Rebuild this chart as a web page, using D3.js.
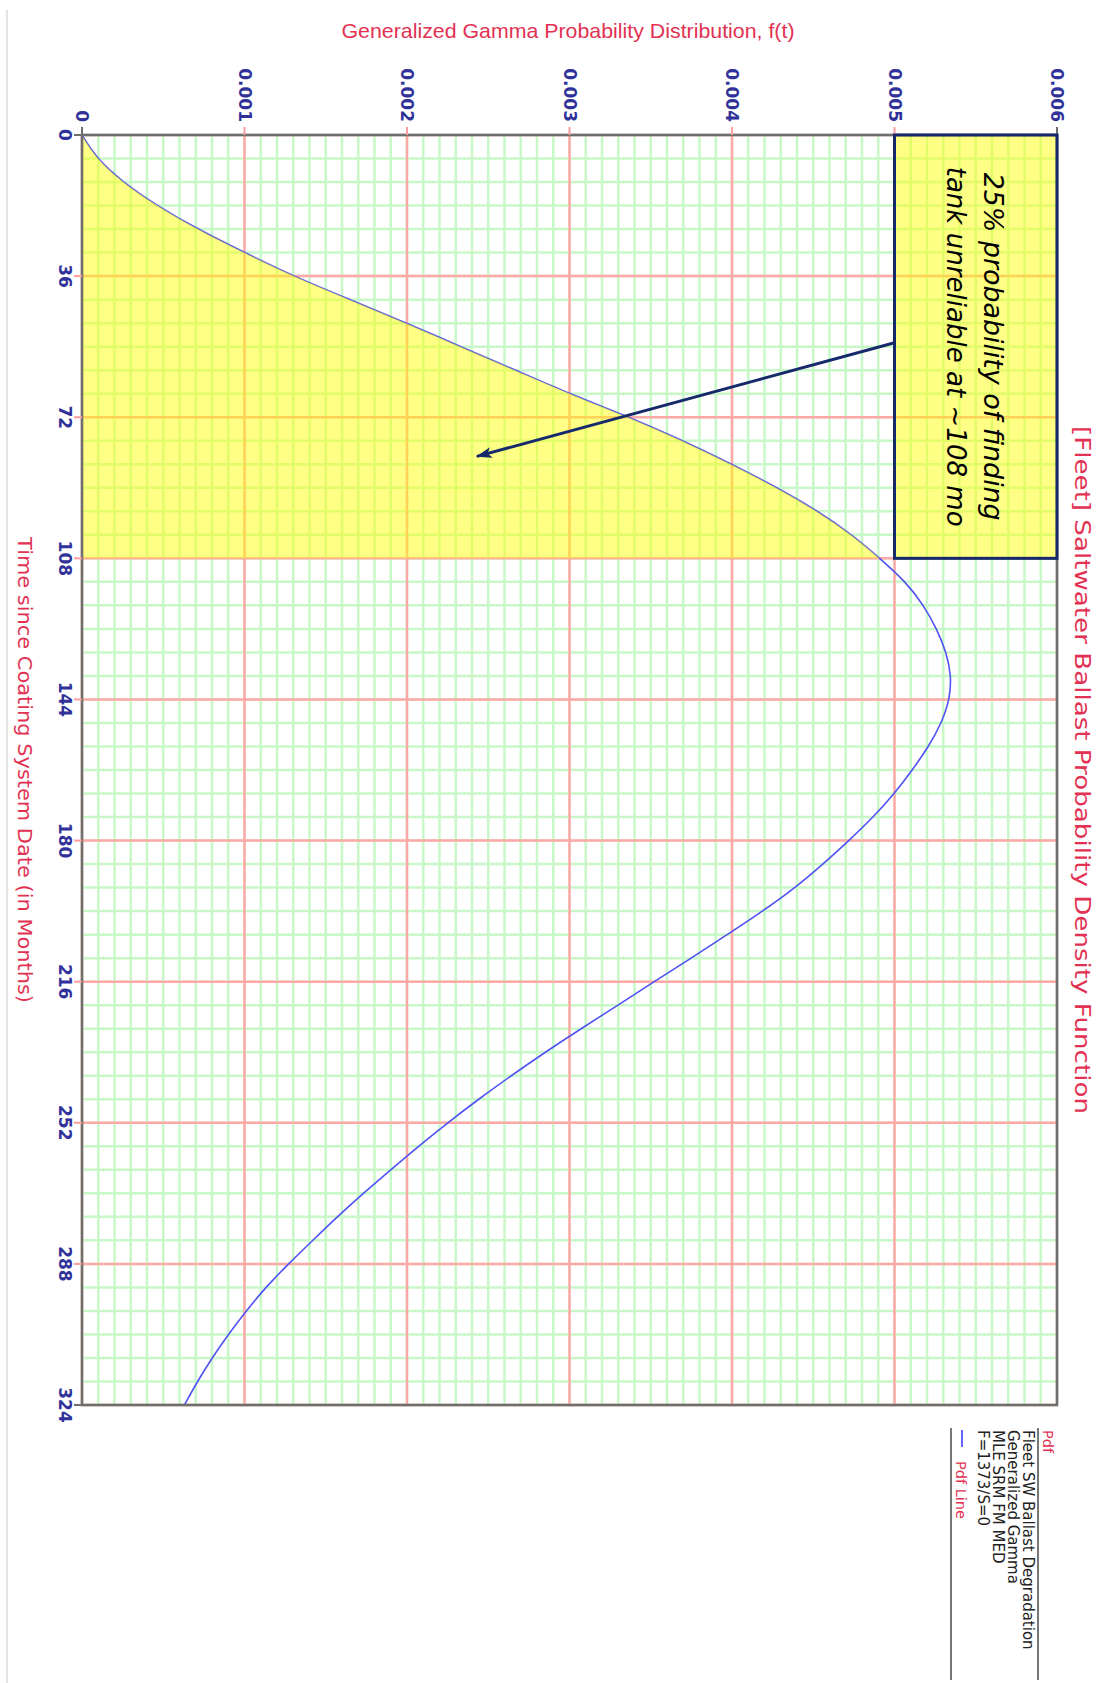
<!DOCTYPE html>
<html>
<head>
<meta charset="utf-8">
<script src="https://cdn.jsdelivr.net/npm/d3@7"></script>
<style>
  body { margin: 0; background: #fff; }
  svg { display: block; }
</style>
</head>
<body>
<div id="vis"></div>
<script>
const FRAME_WIDTH = 1103;
const FRAME_HEIGHT = 1683;
const PLOT = {left: 82, right: 1057, top: 135, bottom: 1405};

// time since coating (months) and the pdf value
const MONTHS = [0, 6, 12, 18, 24, 30, 36, 42, 48, 54, 60, 66, 72, 78, 84, 90, 96, 102, 108,
                114, 120, 126, 132, 138, 144, 150, 156, 162, 168, 174, 180, 186, 192, 198, 204,
                210, 216, 222, 228, 234, 240, 246, 252, 258, 264, 270, 276, 282, 288, 294, 300,
                306, 312, 318, 324];
const PDF = [0, 0.00009, 0.00025, 0.00046, 0.00071, 0.00100, 0.00130, 0.00165, 0.00200,
             0.00233, 0.00267, 0.00300, 0.00337, 0.00370, 0.00400, 0.00428, 0.00453, 0.00474,
             0.00491, 0.00507, 0.00518, 0.00526, 0.00532, 0.00535, 0.00534, 0.00529, 0.00521,
             0.00511, 0.00500, 0.00487, 0.00472, 0.00456, 0.00439, 0.00419, 0.00397, 0.00375,
             0.00352, 0.00330, 0.00307, 0.00285, 0.00264, 0.00244, 0.00225, 0.00207, 0.00190,
             0.00173, 0.00157, 0.00142, 0.00127, 0.00113, 0.00101, 0.00090, 0.00080, 0.00071,
             0.00063];

const TIME_TICKS = [0, 36, 72, 108, 144, 180, 216, 252, 288, 324];
const PDF_TICKS = [0, 0.001, 0.002, 0.003, 0.004, 0.005, 0.006];
const PDF_TICK_LABELS = ["0", "0.001", "0.002", "0.003", "0.004", "0.005", "0.006"];

const SHADE_END = 108;   // shaded region: 0 .. 108 months
const NOTE_LINES = ["25% probability of finding", "tank unreliable at ~108 mo"];
const LEGEND_LINES = ["Fleet SW Ballast Degradation", "Generalized Gamma", "MLE SRM FM MED", "F=1373/S=0"];

const RED = "#e23152";
const TICK_BLUE = "#30329a";
const NAVY = "#15296b";

const svg = d3.select("#vis").append("svg")
    .attr("width", FRAME_WIDTH)
    .attr("height", FRAME_HEIGHT);

// scales: pdf value runs left->right, time runs top->bottom
const X = d3.scaleLinear().domain([0, 0.006]).range([PLOT.left, PLOT.right]);
const Y = d3.scaleLinear().domain([0, 324]).range([PLOT.top, PLOT.bottom]);

const points = MONTHS.map((t, i) => ({t: t, f: PDF[i]}));

// page border on the left
svg.append("line")
    .attr("x1", 7).attr("x2", 7).attr("y1", 10).attr("y2", FRAME_HEIGHT)
    .attr("stroke", "#d9d9d9").attr("stroke-width", 1.5);

// minor grid
const grid = svg.append("g");
grid.selectAll(".vminor")
    .data(X.ticks(60))
    .enter().append("line")
      .attr("x1", d => X(d)).attr("x2", d => X(d))
      .attr("y1", PLOT.top).attr("y2", PLOT.bottom)
      .attr("stroke", "#c8f8c8").attr("stroke-width", 2.5);
grid.selectAll(".hminor")
    .data(d3.range(0, 325, 6))
    .enter().append("line")
      .attr("x1", PLOT.left).attr("x2", PLOT.right)
      .attr("y1", d => Y(d)).attr("y2", d => Y(d))
      .attr("stroke", "#c8f8c8").attr("stroke-width", 2.5);

// major grid
grid.selectAll(".vmajor")
    .data(PDF_TICKS)
    .enter().append("line")
      .attr("x1", d => X(d)).attr("x2", d => X(d))
      .attr("y1", PLOT.top).attr("y2", PLOT.bottom)
      .attr("stroke", "#ffa8a8").attr("stroke-width", 2.5);
grid.selectAll(".hmajor")
    .data(TIME_TICKS)
    .enter().append("line")
      .attr("x1", PLOT.left).attr("x2", PLOT.right)
      .attr("y1", d => Y(d)).attr("y2", d => Y(d))
      .attr("stroke", "#ffa8a8").attr("stroke-width", 2.5);

// pdf line (smoothed)
const line = d3.line()
    .x(d => X(d.f))
    .y(d => Y(d.t))
    .curve(d3.curveBasis);

svg.append("path")
    .datum(points)
    .attr("d", line)
    .attr("fill", "none")
    .attr("stroke", "#4f52f5")
    .attr("stroke-width", 1.6);

// shaded area up to 108 months (drawn over the line, like the original)
const area = d3.area()
    .y(d => Y(d.t))
    .x0(X(0))
    .x1(d => X(d.f))
    .curve(d3.curveBasis);

svg.append("path")
    .datum(points.filter(d => d.t <= SHADE_END))
    .attr("d", area)
    .attr("fill", "#ffff00")
    .attr("fill-opacity", 0.48);

// plot frame
svg.append("rect")
    .attr("x", PLOT.left).attr("y", PLOT.top)
    .attr("width", PLOT.right - PLOT.left).attr("height", PLOT.bottom - PLOT.top)
    .attr("fill", "none").attr("stroke", "#6e6e6e").attr("stroke-width", 2.5);

// ticks
svg.selectAll(".xtick")
    .data(PDF_TICKS)
    .enter().append("line")
      .attr("x1", d => X(d)).attr("x2", d => X(d))
      .attr("y1", PLOT.top - 8).attr("y2", PLOT.top)
      .attr("stroke", (d, i) => (i == 0 || i == PDF_TICKS.length - 1) ? "#6e6e6e" : "#ff9c9c")
      .attr("stroke-width", 2);
svg.selectAll(".ytick")
    .data(TIME_TICKS)
    .enter().append("line")
      .attr("x1", PLOT.left - 8).attr("x2", PLOT.left)
      .attr("y1", d => Y(d)).attr("y2", d => Y(d))
      .attr("stroke", (d, i) => (i == 0 || i == TIME_TICKS.length - 1) ? "#6e6e6e" : "#ff9c9c")
      .attr("stroke-width", 2);

// text rotated 90deg clockwise: baseline through (x, y), glyphs to the right
function rotText(x, y, str, size, anchor, fill) {
  return svg.append("text")
      .attr("transform", "translate(" + x + "," + y + ") rotate(90)")
      .attr("text-anchor", anchor)
      .attr("font-family", "DejaVu Sans, Verdana, sans-serif")
      .attr("font-size", size)
      .attr("fill", fill)
      .text(str);
}

// tick labels
PDF_TICKS.forEach((v, i) => {
  rotText(X(v) - 6, PLOT.top - 13, PDF_TICK_LABELS[i], 17, "end", TICK_BLUE)
      .attr("font-weight", 600);
});
TIME_TICKS.forEach(t => {
  rotText(59, Y(t), String(t), 17, "middle", TICK_BLUE)
      .attr("font-weight", 600);
});

// annotation box
const box = svg.append("g");
box.append("rect")
    .attr("x", X(0.005)).attr("y", Y(0))
    .attr("width", X(0.006) - X(0.005)).attr("height", Y(SHADE_END) - Y(0))
    .attr("fill", "#ffff00").attr("fill-opacity", 0.48)
    .attr("stroke", NAVY).attr("stroke-width", 3);

const noteY = (Y(0) + Y(SHADE_END)) / 2;
rotText(984, noteY, NOTE_LINES[0], 26, "middle", "#000")
    .attr("font-style", "italic")
    .attr("textLength", 348).attr("lengthAdjust", "spacingAndGlyphs");
rotText(947, noteY, NOTE_LINES[1], 26, "middle", "#000")
    .attr("font-style", "italic")
    .attr("textLength", 360).attr("lengthAdjust", "spacingAndGlyphs");

// arrow
svg.append("defs").append("marker")
    .attr("id", "arrowhead")
    .attr("markerUnits", "userSpaceOnUse")
    .attr("viewBox", "0 0 16 11")
    .attr("markerWidth", 16).attr("markerHeight", 11)
    .attr("refX", 15).attr("refY", 5.5)
    .attr("orient", "auto")
  .append("path")
    .attr("d", "M0,0 L16,5.5 L0,11 L4,5.5 Z")
    .attr("fill", NAVY);

svg.append("line")
    .attr("x1", X(0.005)).attr("y1", Y(53))
    .attr("x2", X(0.00243)).attr("y2", Y(82))
    .attr("stroke", NAVY).attr("stroke-width", 3)
    .attr("marker-end", "url(#arrowhead)");

// titles
svg.append("text")
    .attr("x", 568).attr("y", 38)
    .attr("text-anchor", "middle")
    .attr("font-family", "Liberation Sans, Arial, sans-serif")
    .attr("font-size", 21)
    .attr("fill", RED)
    .attr("textLength", 453).attr("lengthAdjust", "spacingAndGlyphs")
    .text("Generalized Gamma Probability Distribution, f(t)");

rotText(1075, 770, "[Fleet] Saltwater Ballast Probability Density Function", 21, "middle", RED)
    .attr("textLength", 688).attr("lengthAdjust", "spacingAndGlyphs");

rotText(17.5, 770, "Time since Coating System Date (in Months)", 19, "middle", RED)
    .attr("textLength", 466).attr("lengthAdjust", "spacingAndGlyphs");

// legend
const LEG_TOP = 1430;
svg.append("line")
    .attr("x1", 1038).attr("x2", 1038).attr("y1", 1428).attr("y2", 1680)
    .attr("stroke", "#777").attr("stroke-width", 2);
svg.append("line")
    .attr("x1", 951).attr("x2", 951).attr("y1", 1428).attr("y2", 1680)
    .attr("stroke", "#777").attr("stroke-width", 2);

rotText(1042.5, LEG_TOP, "Pdf", 14.5, "start", RED);
LEGEND_LINES.forEach((s, i) => {
  rotText(1022.5 - i * 14.7, LEG_TOP, s, 15, "start", "#222");
});
svg.append("line")
    .attr("x1", 962).attr("x2", 962).attr("y1", 1430).attr("y2", 1447)
    .attr("stroke", "#3030ff").attr("stroke-width", 1.5);
rotText(956, 1461, "Pdf Line", 14.5, "start", RED);
</script>
</body>
</html>
